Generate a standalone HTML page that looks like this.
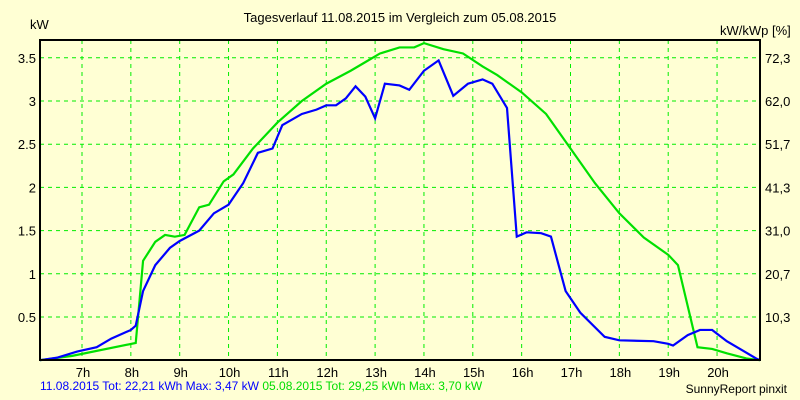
<!DOCTYPE html>
<html><head><meta charset="utf-8"><style>
body{margin:0;background:#ffffd4;}
svg{display:block;font-family:"Liberation Sans",sans-serif;font-size:12px;}
</style></head><body>
<svg id="c" width="800" height="400">
<rect width="800" height="400" fill="#ffffd4"/>
<text x="400" y="22" text-anchor="middle" font-size="13">Tagesverlauf 11.08.2015 im Vergleich zum 05.08.2015</text>
<text x="30" y="29" font-size="13">kW</text>
<text x="720" y="35" font-size="13">kW/kWp [%]</text>
<g id="grid"></g><g id="series"></g>
<rect x="40" y="40" width="720" height="320" fill="none" stroke="#000" stroke-width="2"/>
<text x="40" y="390" font-size="12"><tspan fill="#0000ff">11.08.2015 Tot: 22,21 kWh Max: 3,47 kW </tspan><tspan fill="#00dd00">05.08.2015 Tot: 29,25 kWh Max: 3,70 kW</tspan></text>
<text x="787" y="393" text-anchor="end" font-size="12">SunnyReport pinxit</text>
</svg>
<script>
const yTicks=[0.5,1,1.5,2,2.5,3,3.5];
const yLabels=["0.5","1","1.5","2","2.5","3","3.5"];
const y2Labels=["10,3","20,7","31,0","41,3","51,7","62,0","72,3"];
const xTicks=[7,8,9,10,11,12,13,14,15,16,17,18,19,20];
const t1=[6.14,6.5,6.9,7.3,7.6,8.0,8.1,8.25,8.5,8.8,9.0,9.4,9.7,10.0,10.3,10.6,10.9,11.1,11.5,11.8,12.0,12.2,12.4,12.6,12.8,13.0,13.2,13.5,13.7,14.0,14.3,14.6,14.9,15.2,15.4,15.7,15.9,16.1,16.4,16.6,16.9,17.2,17.7,18.0,18.7,19.0,19.1,19.4,19.65,19.9,20.2,20.5,20.8,20.88];
const v1=[0,0.03,0.1,0.15,0.25,0.35,0.4,0.8,1.1,1.3,1.38,1.5,1.7,1.8,2.05,2.4,2.45,2.72,2.85,2.9,2.95,2.95,3.03,3.17,3.05,2.8,3.2,3.18,3.13,3.35,3.47,3.06,3.2,3.25,3.2,2.92,1.43,1.48,1.47,1.43,0.8,0.55,0.27,0.23,0.22,0.19,0.17,0.29,0.35,0.35,0.22,0.12,0.02,0];
const t2=[6.14,6.8,8.1,8.25,8.5,8.7,8.9,9.1,9.4,9.6,9.9,10.1,10.5,11,11.5,12,12.5,12.8,13.1,13.5,13.8,14.0,14.4,14.8,15.2,15.5,16,16.5,17,17.5,18,18.5,19,19.2,19.6,19.9,20.2,20.6,20.88];
const v2=[0,0.05,0.2,1.15,1.37,1.45,1.43,1.45,1.77,1.8,2.07,2.15,2.45,2.75,3.0,3.2,3.35,3.45,3.55,3.62,3.62,3.67,3.6,3.55,3.4,3.3,3.1,2.85,2.45,2.05,1.7,1.42,1.22,1.1,0.15,0.13,0.08,0.02,0];
const X=h=>82+(h-7)*48.85, Y=v=>360.2-v*86.4;
const NS="http://www.w3.org/2000/svg";
const grid=document.getElementById('grid'), ser=document.getElementById('series');
function mk(tag,parent,attrs){const e=document.createElementNS(NS,tag);for(const k in attrs)e.setAttribute(k,attrs[k]);parent.appendChild(e);return e;}
yTicks.forEach((v,i)=>{
 const l=mk('line',grid,{x1:40,x2:760,y1:Y(v),y2:Y(v),stroke:'#00ee00','stroke-dasharray':'4,4'});
 
 
 const t=mk('text',grid,{x:36,y:Y(v)+5,'text-anchor':'end','font-size':'13'});t.textContent=yLabels[i];
 
 
 const t2e=mk('text',grid,{x:765,y:Y(v)+5,'font-size':'13'});t2e.textContent=y2Labels[i];
 
 
});
xTicks.forEach(h=>{
 const l=mk('line',grid,{x1:X(h),x2:X(h),y1:40,y2:360,stroke:'#00ee00','stroke-dasharray':'4,4'});
 
 
 const t=mk('text',grid,{x:X(h)+1,y:377,'text-anchor':'middle','font-size':'13'});t.textContent=h+'h';
 
 
});
const p2=mk('polyline',ser,{points:t2.map((t,i)=>X(t)+','+Y(v2[i])).join(' '),fill:'none',stroke:'#00e000','stroke-width':2.2});


const p1=mk('polyline',ser,{points:t1.map((t,i)=>X(t)+','+Y(v1[i])).join(' '),fill:'none',stroke:'#0000ff','stroke-width':2.2});


</script>
</body></html>
